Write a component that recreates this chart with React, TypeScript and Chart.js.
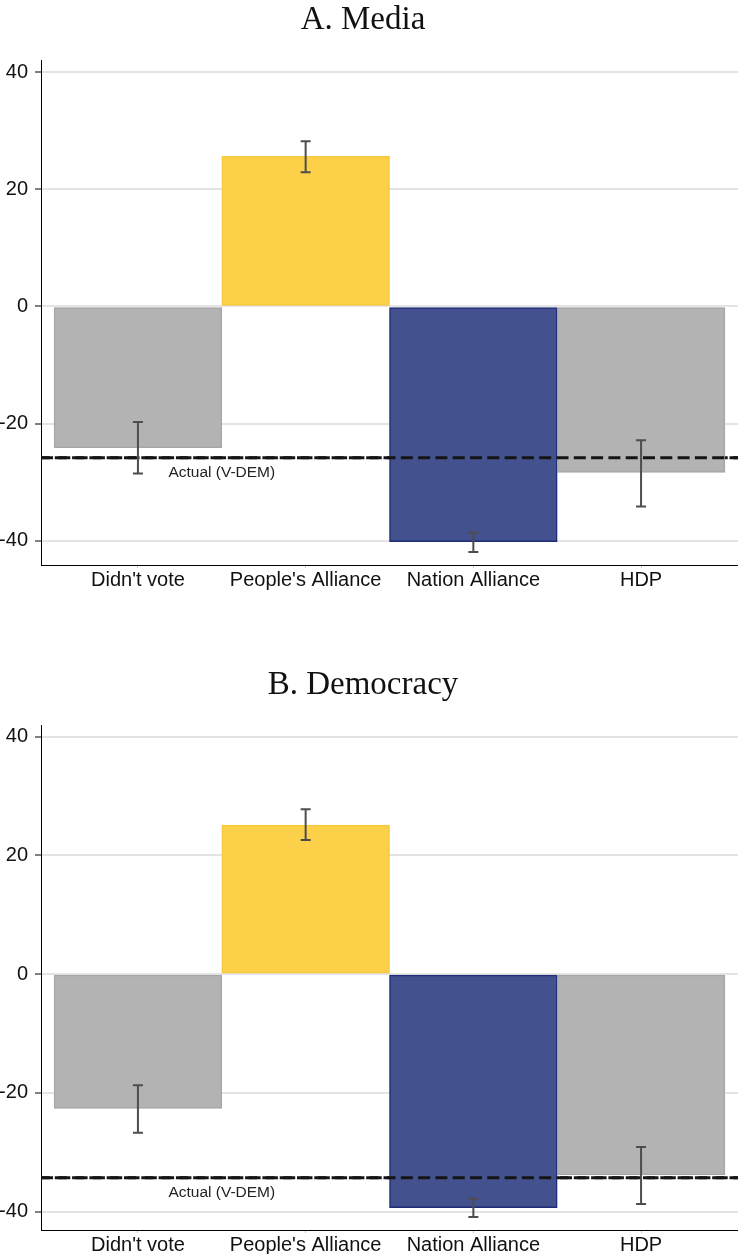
import React, { useEffect, useRef } from "react";
import { Chart, registerables } from "chart.js";

Chart.register(...registerables);

// ---- data ----
const categories = ["Didn't vote", "People's Alliance", "Nation Alliance", "HDP"];
const yTickValues = [-40, -20, 0, 20, 40];

const mediaValues = [-24.1, 25.6, -40.1, -28.3];
const mediaLower = [-28.5, 22.9, -41.9, -34.1];
const mediaUpper = [-19.7, 28.2, -38.6, -22.8];
const mediaActual = -25.8;

const democracyValues = [-22.6, 25.1, -39.3, -33.8];
const democracyLower = [-26.7, 22.6, -40.9, -38.7];
const democracyUpper = [-18.7, 27.8, -37.8, -29.1];
const democracyActual = -34.3;

const actualLabel = "Actual (V-DEM)";

// ---- styles ----
const barColors = ["#b3b3b3", "#fcd149", "#43528e", "#b3b3b3"];
const barBorders = ["#a6a6a6", "#f6c83a", "#1f2c78", "#a6a6a6"];

const X_MIN = -0.578;
const X_MAX = 3.578;
const TOP_PAD = 60;
const AREA_BOTTOM = 565;

type PanelProps = {
  title: string;
  values: number[];
  lower: number[];
  upper: number[];
  actual: number;
  yMin: number;
  yMax: number;
  height: number;
};

function drawDashed(chart: any, actual: number, offset: number) {
  const { ctx, chartArea, scales } = chart;
  const y = scales.y.getPixelForValue(actual);
  ctx.save();
  ctx.strokeStyle = "#141414";
  ctx.lineWidth = 3;
  ctx.setLineDash([12, 5.3]);
  ctx.lineDashOffset = offset;
  ctx.beginPath();
  ctx.moveTo(chartArea.left, y);
  ctx.lineTo(chartArea.right, y);
  ctx.stroke();
  ctx.restore();
}

function Panel({ title, values, lower, upper, actual, yMin, yMax, height }: PanelProps) {
  const ref = useRef<HTMLCanvasElement | null>(null);

  useEffect(() => {
    if (!ref.current) return;
    const overlay = {
      id: "overlay",
      beforeDatasetsDraw(chart: any) {
        drawDashed(chart, actual, 0);
      },
      afterDatasetsDraw(chart: any) {
        const { ctx, scales } = chart;
        drawDashed(chart, actual, 3.5);
        // error bars
        ctx.save();
        ctx.strokeStyle = "#4d4d4d";
        ctx.lineWidth = 2;
        ctx.setLineDash([]);
        for (let i = 0; i < values.length; i++) {
          const x = scales.x.getPixelForValue(i);
          const yt = scales.y.getPixelForValue(upper[i]);
          const yb = scales.y.getPixelForValue(lower[i]);
          ctx.beginPath();
          ctx.moveTo(x, yt);
          ctx.lineTo(x, yb);
          ctx.moveTo(x - 5, yt);
          ctx.lineTo(x + 5, yt);
          ctx.moveTo(x - 5, yb);
          ctx.lineTo(x + 5, yb);
          ctx.stroke();
        }
        ctx.restore();
        // actual label
        ctx.save();
        ctx.fillStyle = "#222";
        ctx.font = '15.5px "Liberation Sans"';
        ctx.textAlign = "center";
        ctx.textBaseline = "middle";
        ctx.fillText(actualLabel, scales.x.getPixelForValue(0.5), scales.y.getPixelForValue(actual) + 15);
        ctx.restore();
      },
      afterDraw(chart: any) {
        const { ctx } = chart;
        ctx.save();
        ctx.fillStyle = "#111";
        ctx.font = '33px "Liberation Serif"';
        ctx.textAlign = "center";
        ctx.textBaseline = "alphabetic";
        ctx.fillText(title, 363, 29);
        ctx.restore();
      },
    };

    const chart = new Chart(ref.current, {
      type: "bar",
      data: {
        datasets: [
          {
            data: values.map((v, i) => ({ x: i, y: v })) as any,
            backgroundColor: barColors,
            borderColor: barBorders,
            borderWidth: 1.5,
            borderSkipped: false,
            barPercentage: 1,
            categoryPercentage: 1,
          },
        ],
      },
      options: {
        responsive: false,
        animation: false,
        layout: { padding: { top: TOP_PAD, left: 0, right: 0, bottom: 0 } },
        plugins: {
          legend: { display: false },
          tooltip: { enabled: false },
          title: { display: false },
        },
        scales: {
          x: {
            type: "linear",
            position: "bottom",
            offset: false,
            min: X_MIN,
            max: X_MAX,
            afterBuildTicks: (s: any) => {
              s.ticks = categories.map((_, i) => ({ value: i }));
            },
            afterFit: (s: any) => {
              s.height = height - AREA_BOTTOM;
            },
            ticks: {
              autoSkip: false,
              maxRotation: 0,
              padding: 0,
              color: "#111",
              font: { family: "Liberation Sans", size: 20 },
              callback: (v: any) => categories[Math.round(Number(v))] ?? "",
            },
            grid: {
              offset: false,
              drawOnChartArea: false,
              drawTicks: true,
              tickLength: 3,
              color: "#c8c8c8",
              tickColor: "#c8c8c8",
            },
            border: { display: true, color: "#000", width: 1 },
          },
          y: {
            type: "linear",
            position: "left",
            min: yMin,
            max: yMax,
            afterBuildTicks: (s: any) => {
              s.ticks = yTickValues.map((v) => ({ value: v }));
            },
            afterFit: (s: any) => {
              s.width = 41;
            },
            ticks: {
              padding: 7,
              color: "#111",
              font: { family: "Liberation Sans", size: 20 },
              callback: (v: any) => String(v),
            },
            grid: {
              color: "#e4e4e4",
              lineWidth: 2,
              drawTicks: true,
              tickLength: 6,
              tickColor: "#000",
              tickWidth: 1,
            },
            border: { display: true, color: "#000", width: 1 },
          },
        },
      },
      plugins: [overlay],
    });
    return () => chart.destroy();
  }, [title, values, lower, upper, actual, yMin, yMax, height]);

  return <canvas ref={ref} width={738} height={height} style={{ display: "block" }} />;
}

export default function App() {
  return (
    <div style={{ width: 738, height: 1254, overflow: "hidden" }}>
      <style>{"body{margin:0;overflow:hidden;background:#fff}"}</style>
      <Panel
        title="A. Media"
        values={mediaValues}
        lower={mediaLower}
        upper={mediaUpper}
        actual={mediaActual}
        yMin={-44.1}
        yMax={42.05}
        height={665}
      />
      <Panel
        title="B. Democracy"
        values={democracyValues}
        lower={democracyLower}
        upper={democracyUpper}
        actual={democracyActual}
        yMin={-43.08}
        yMax={41.97}
        height={589}
      />
    </div>
  );
}
